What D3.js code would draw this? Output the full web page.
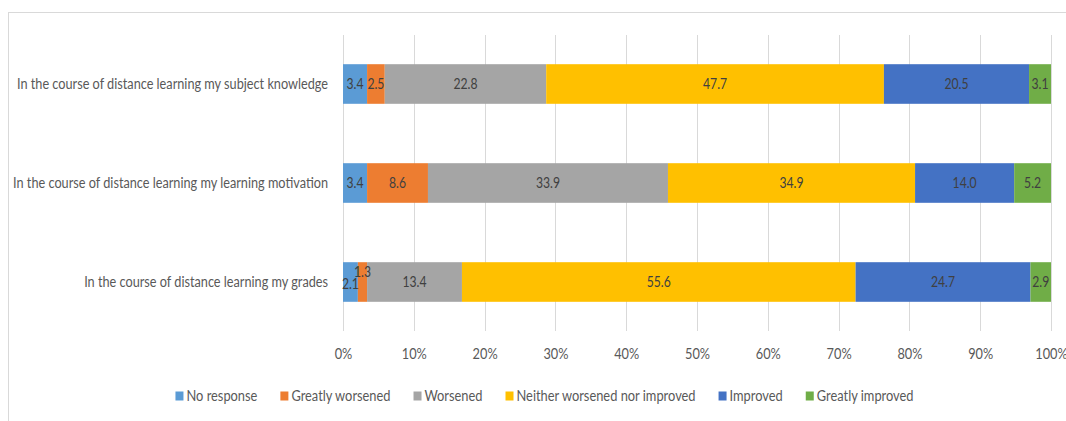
<!DOCTYPE html>
<html>
<head>
<meta charset="utf-8">
<script src="https://cdn.jsdelivr.net/npm/d3@7"></script>
<style>
  html, body { margin: 0; padding: 0; background: #fff; }
  svg { display: block; font-family: Lato, "Open Sans", sans-serif; }
</style>
</head>
<body>
<svg id="chart" width="1066" height="421"></svg>
<script>
// Survey statements (top to bottom)
const categories = [
  "In the course of distance learning my subject knowledge",
  "In the course of distance learning my learning motivation",
  "In the course of distance learning my grades"
];

// Response options, in stacking order
const seriesNames = [
  "No response",
  "Greatly worsened",
  "Worsened",
  "Neither worsened nor improved",
  "Improved",
  "Greatly improved"
];

// Percentages per response option, one value per statement
const noResponse        = [3.4, 3.4, 2.1];
const greatlyWorsened   = [2.5, 8.6, 1.3];
const worsened          = [22.8, 33.9, 13.4];
const neither           = [47.7, 34.9, 55.6];
const improved          = [20.5, 14.0, 24.7];
const greatlyImproved   = [3.1, 5.2, 2.9];

const tickValues = [0, 0.1, 0.2, 0.3, 0.4, 0.5, 0.6, 0.7, 0.8, 0.9, 1.0];

const colors = ["#5B9BD5", "#ED7D31", "#A5A5A5", "#FFC000", "#4472C4", "#70AD47"];

const seriesValues = [noResponse, greatlyWorsened, worsened, neither, improved, greatlyImproved];

const rows = categories.map((c, i) => {
  const r = { category: c };
  seriesNames.forEach((s, j) => { r[s] = seriesValues[j][i]; });
  return r;
});

// Narrow the type horizontally so it sets like a condensed face
function condense(sel, k = 0.88) {
  sel.each(function () {
    const w = this.getComputedTextLength();
    d3.select(this)
      .attr("textLength", w * k)
      .attr("lengthAdjust", "spacingAndGlyphs");
  });
}

const svg = d3.select("#chart");

// Chart frame
svg.append("rect")
  .attr("x", 8.5).attr("y", 12.5)
  .attr("width", 1100).attr("height", 440)
  .attr("fill", "none").attr("stroke", "#d9d9d9");

const x = d3.scaleLinear().domain([0, 1]).range([343, 1051]);
const y = d3.scaleBand().domain(categories).range([34.5, 331.5])
  .paddingInner(0.6).paddingOuter(0.3);

// Vertical gridlines
svg.append("g")
  .selectAll("line")
  .data(tickValues)
  .join("line")
  .attr("x1", d => Math.round(x(d)) + 0.5)
  .attr("x2", d => Math.round(x(d)) + 0.5)
  .attr("y1", 35).attr("y2", 331)
  .attr("stroke", "#d9d9d9").attr("stroke-width", 1);

// Percentage axis labels
const xAxis = d3.axisBottom(x)
  .tickValues(tickValues)
  .tickFormat(d3.format(".0%"))
  .tickSize(0).tickPadding(0);
const gx = svg.append("g").attr("transform", "translate(0,349)").call(xAxis);
gx.select(".domain").remove();
gx.selectAll("text")
  .attr("dy", "0.71em")
  .attr("fill", "#595959")
  .style("font-size", "14.5px")
  .style("font-family", "Lato, 'Open Sans', sans-serif")
  .call(condense, 0.88);

// Category labels
const yAxis = d3.axisLeft(y).tickSize(0).tickPadding(15);
const gy = svg.append("g").attr("transform", "translate(343,0)").call(yAxis);
gy.select(".domain").remove();
gy.selectAll("text")
  .attr("fill", "#595959")
  .style("font-size", "14.8px")
  .style("font-family", "Lato, 'Open Sans', sans-serif")
  .call(condense, 0.858);

// Stacked bars
const stack = d3.stack().keys(seriesNames);
const stacked = stack(rows);

const layers = svg.append("g")
  .selectAll("g")
  .data(stacked)
  .join("g")
  .attr("fill", (d, i) => colors[i]);

layers.selectAll("rect")
  .data(d => d)
  .join("rect")
  .attr("x", d => x(d[0] / 100))
  .attr("y", d => y(d.data.category))
  .attr("width", d => x(d[1] / 100) - x(d[0] / 100))
  .attr("height", y.bandwidth());

// Value labels, centered in each segment; a label that would collide
// with the one before it is lifted above the bar's middle line.
const labelG = svg.append("g")
  .style("font-size", "14.5px")
  .attr("fill", "#404040")
  .attr("text-anchor", "middle");

categories.forEach(cat => {
  let prevRight = -Infinity;
  let prevText = null;
  stacked.forEach(layer => {
    const seg = layer.find(s => s.data.category === cat);
    const cx = (x(seg[0] / 100) + x(seg[1] / 100)) / 2;
    const cy = y(cat) + y.bandwidth() / 2;
    const t = labelG.append("text")
      .attr("x", cx)
      .attr("y", cy)
      .attr("dy", "0.35em")
      .text(d3.format(".1f")(seg[1] - seg[0]));
    condense(t, 0.84);
    const w = +t.attr("textLength");
    if (cx - w / 2 < prevRight - 3) {
      t.attr("y", cy - 10);
      if (prevText) prevText.attr("y", cy + 2);
    }
    prevRight = cx + w / 2;
    prevText = t;
  });
});

// Legend
const legend = svg.append("g").style("font-size", "14.6px");
const items = legend.selectAll("g")
  .data(seriesNames)
  .join("g");
items.append("rect")
  .attr("width", 8).attr("height", 9)
  .attr("y", -4.5)
  .attr("fill", (d, i) => colors[i]);
items.append("text")
  .attr("x", 11)
  .attr("dy", "0.35em")
  .attr("fill", "#595959")
  .text(d => d)
  .call(condense, 0.88);

const gap = 23;
const widths = [];
items.each(function () {
  widths.push(11 + +d3.select(this).select("text").attr("textLength"));
});
const total = d3.sum(widths) + gap * (widths.length - 1);
const start = 544.5 - total / 2;
let offset = 0;
items.attr("transform", (d, i) => {
  const tx = start + offset;
  offset += widths[i] + gap;
  return `translate(${tx},396)`;
});
</script>
</body>
</html>
